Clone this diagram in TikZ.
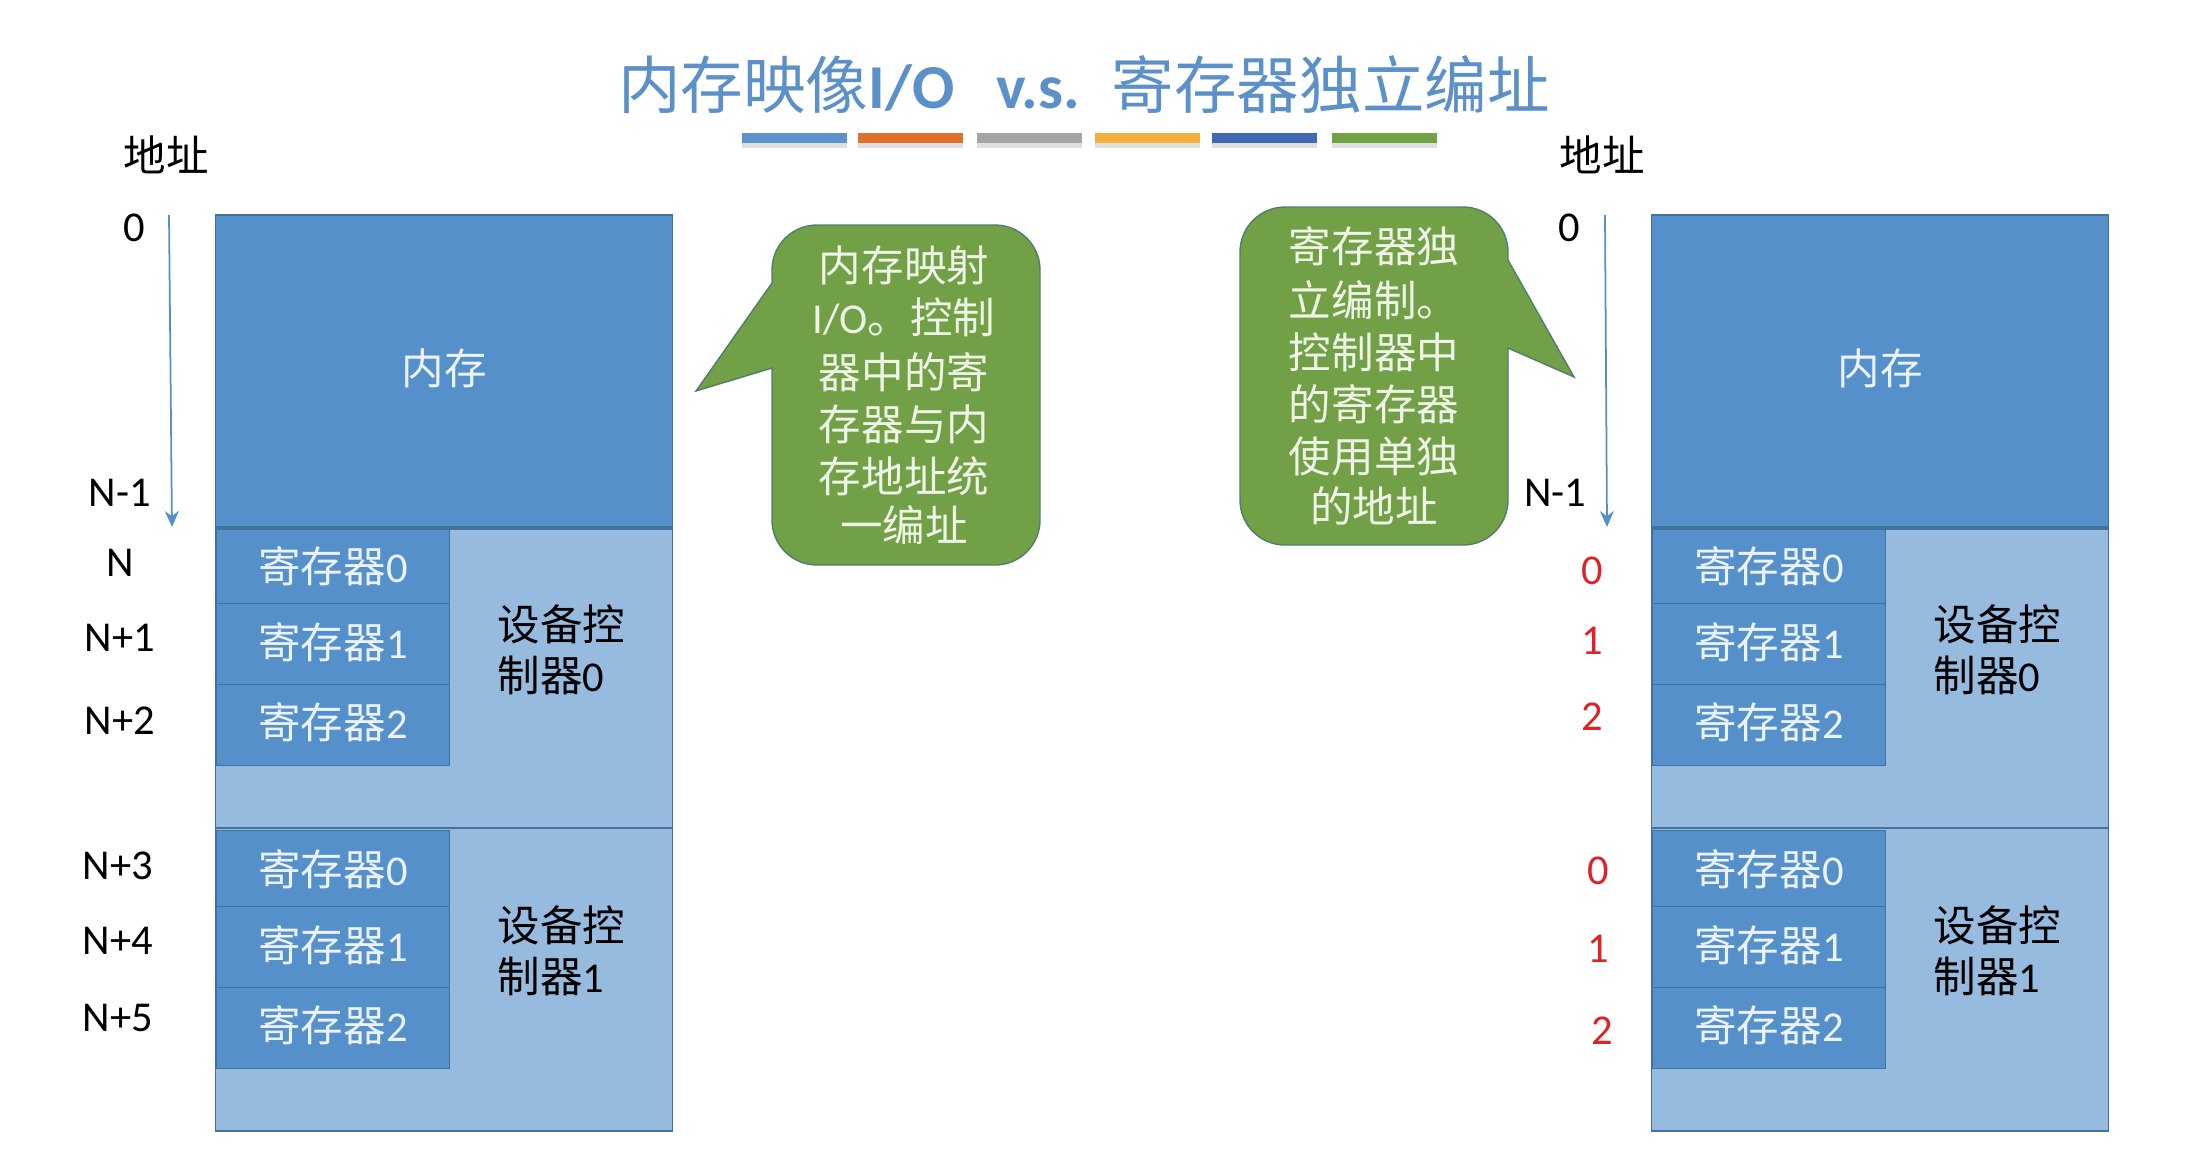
\documentclass[tikz,border=0pt]{standalone}
\usepackage{fontspec}
\setmainfont{Carlito}
\newfontfamily\cjkfont{Noto Sans CJK SC}
\newcommand{\zh}[1]{{\cjkfont #1}}
\usetikzlibrary{arrows.meta,shadows}
\definecolor{memblue}{HTML}{5690CA}
\definecolor{ctrlblue}{HTML}{97BADF}
\definecolor{edgeblue}{HTML}{41719C}
\definecolor{titleblue}{HTML}{5B90C8}
\definecolor{bubblegreen}{HTML}{72A047}
\definecolor{bubbleedge}{HTML}{4F7F6A}
\definecolor{bubblefont}{HTML}{EEF5E6}
\definecolor{regfont}{HTML}{EAF2FA}
\definecolor{addrred}{HTML}{D9252A}

\begin{document}
\begin{tikzpicture}[>=Stealth,font=\fontsize{12.1}{14.8}\selectfont]
\tikzstyle{box}=[draw=edgeblue,line width=0.4pt,inner sep=0pt,outer sep=0pt]
\tikzstyle{mem}=[box,fill=memblue,text=regfont,minimum width=4.565cm,minimum height=3.12cm,text height=10pt,text depth=2.4pt]
\tikzstyle{ctrl}=[box,fill=ctrlblue,minimum width=4.565cm]
\tikzstyle{reg}=[box,fill=memblue,text=regfont,minimum width=2.335cm,text height=10pt]
\tikzstyle{bar}=[inner sep=0pt,minimum width=1.05cm,minimum height=0.105cm,drop shadow={shadow xshift=0cm,shadow yshift=-0.05cm,opacity=0.25}]
\tikzstyle{bubble}=[draw=bubbleedge,line width=0.4pt,fill=bubblegreen]
\tikzstyle{bubbletext}=[text=bubblefont,align=center,inner sep=0pt]
\tikzstyle{ctrltext}=[anchor=west,align=left,inner sep=0pt,font=\fontsize{12.1}{14.4}\selectfont]
\tikzstyle{addr}=[inner sep=0pt]
\tikzstyle{redaddr}=[inner sep=0pt,text=addrred]
\tikzstyle{axis}=[color=memblue,line width=0.5pt,-{Stealth[length=0.16cm,width=0.14cm]}]
\useasboundingbox (0,0) rectangle (22.08,-11.62);
\node[text=titleblue,font=\fontsize{17.8}{20}\selectfont,inner sep=0pt] (title) at (10.84,-0.85) {\zh{内存映像}\textbf{I/O\hspace{12pt}v.s.}\hspace{9pt}\zh{寄存器独立编址}};
\foreach \i/\c/\x in {1/5B92CB/7.945,2/E1702F/9.10,3/A5A5A5/10.29,4/F4B03A/11.47,5/3F68B5/12.64,6/71A346/13.84} {
\definecolor{barcolor}{HTML}{\c}
\node[bar,fill=barcolor] (bar\i) at (\x,-1.38) {};
}
\foreach \side/\cx/\rx/\tx in {L/4.44/3.33/4.97,R/18.80/17.69/19.33} {
\node[mem] (mem\side) at (\cx,-3.71) {\zh{内存}};
\node[ctrl,minimum height=2.99cm] (ctrlA\side) at (\cx,-6.785) {};
\node[ctrl,minimum height=3.03cm] (ctrlB\side) at (\cx,-9.795) {};
\foreach \i/\y/\h/\d in {0/5.665/0.75/0.8,1/6.44/0.805/1.8,2/7.25/0.805/2.2} \node[reg,minimum height=\h cm,text depth=\d pt] (regA\i\side) at (\rx,-\y) {\zh{寄存器}\i};
\foreach \i/\y/\h/\d in {0/8.685/0.755/0.2,1/9.47/0.81/1.8,2/10.28/0.805/2.2} \node[reg,minimum height=\h cm,text depth=\d pt] (regB\i\side) at (\rx,-\y) {\zh{寄存器}\i};
\node[ctrltext] (ctrlAtext\side) at (\tx,-6.5) {\zh{设备控}\\\zh{制器}0};
\node[ctrltext] (ctrlBtext\side) at (\tx,-9.51) {\zh{设备控}\\\zh{制器}1};
}
\node[addr] (addrtitleL) at (1.66,-1.55) {\zh{地址}};
\node[addr] (addrtitleR) at (16.02,-1.55) {\zh{地址}};
\node[addr] (zeroL) at (1.34,-2.28) {0};
\node[addr] (zeroR) at (15.69,-2.28) {0};
\node[addr] (lastL) at (1.20,-4.93) {N-1};
\node[addr] (lastR) at (15.55,-4.93) {N-1};
\foreach \t/\x/\y in {N/1.20/5.63,N+1/1.20/6.38,N+2/1.20/7.21,N+3/1.18/8.66,N+4/1.18/9.41,N+5/1.18/10.18} \node[addr] (addr\t) at (\x,-\y) {\t};
\foreach \t/\x/\y/\n in {0/15.92/5.71/a,1/15.92/6.41/b,2/15.92/7.17/c,0/15.98/8.71/d,1/15.98/9.49/e,2/16.02/10.31/f} \node[redaddr] (red\n) at (\x,-\y) {\t};
\coordinate (axisstartL) at (1.69,-2.15);
\coordinate (axisendL) at (1.72,-5.27);
\coordinate (axisstartR) at (16.05,-2.15);
\coordinate (axisendR) at (16.07,-5.27);
\draw[axis] (axisstartL) -- (axisendL);
\draw[axis] (axisstartR) -- (axisendR);
\draw[bubble] (6.96,-3.91) -- (7.72,-2.83) -- (7.72,-2.70) arc[start angle=180,end angle=90,radius=0.45] -- (9.95,-2.25) arc[start angle=90,end angle=0,radius=0.45] -- (10.40,-5.20) arc[start angle=0,end angle=-90,radius=0.45] -- (8.17,-5.65) arc[start angle=270,end angle=180,radius=0.45] -- (7.72,-3.68) -- cycle;
\node[bubbletext] (bubbleLtext) at (9.04,-3.95) {\zh{内存映射}\\I/O\zh{。控制}\\[0.8pt]\zh{器中的寄}\\\zh{存器与内}\\\zh{存地址统}\\[-0.8pt]\zh{一编址}};
\draw[bubble] (15.74,-3.77) -- (15.08,-3.48) -- (15.08,-5.00) arc[start angle=0,end angle=-90,radius=0.45] -- (12.85,-5.45) arc[start angle=270,end angle=180,radius=0.45] -- (12.40,-2.52) arc[start angle=180,end angle=90,radius=0.45] -- (14.63,-2.07) arc[start angle=90,end angle=0,radius=0.45] -- (15.08,-2.60) -- cycle;
\node[bubbletext] (bubbleRtext) at (13.74,-3.76) {\zh{寄存器独}\\[0.6pt]\zh{立编制。}\\\zh{控制器中}\\\zh{的寄存器}\\\zh{使用单独}\\[-0.6pt]\zh{的地址}};
\end{tikzpicture}
\end{document}
